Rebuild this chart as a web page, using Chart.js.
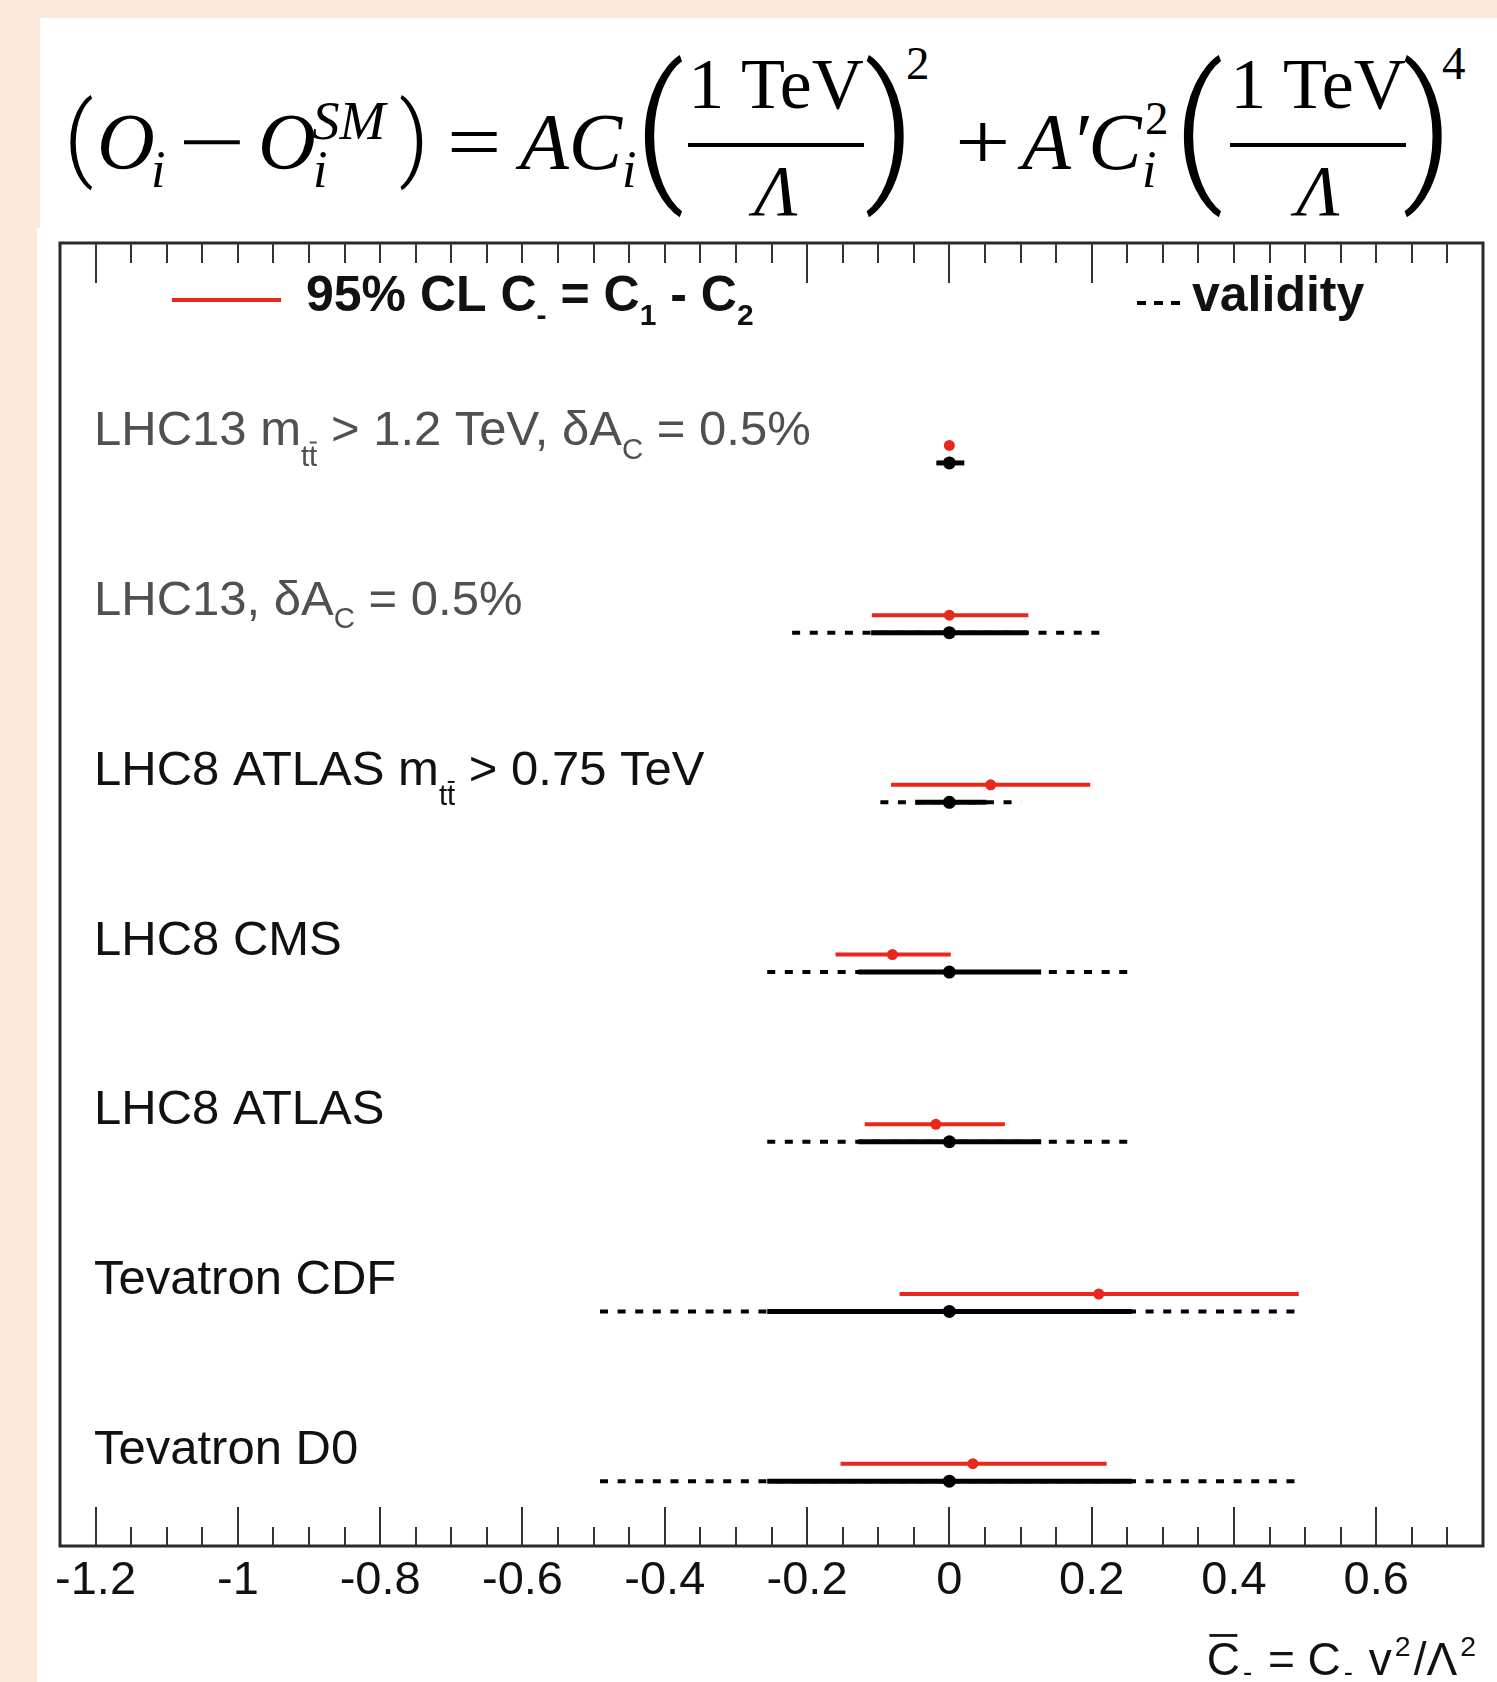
<!DOCTYPE html>
<html><head><meta charset="utf-8">
<script src="https://cdn.jsdelivr.net/npm/chart.js@4.4.1/dist/chart.umd.min.js"></script>
<style>
html,body{margin:0;padding:0;}
body{width:1497px;height:1682px;background:#FCE9DB;position:relative;overflow:hidden;}
#fbox{position:absolute;left:40px;top:18px;width:1457px;height:211px;background:#fff;}
#cbox{position:absolute;left:37px;top:228px;width:1460px;height:1454px;background:#fff;}
#formula{position:absolute;left:0;top:0;width:1497px;height:230px;font-family:"Liberation Serif","DejaVu Serif",serif;color:#000;}
#formula span{position:absolute;line-height:1;white-space:nowrap;display:block;}
#formula .it{font-style:italic;}
#formula .par{font-family:Roboto,Lato,"Liberation Sans",sans-serif;font-weight:300;font-size:100px;left:0;top:0;}
#formula .m{font-size:80px;top:102px;}
#formula .op{font-size:80px;top:102px;transform-origin:0 0;}
#formula .sb{font-size:52px;top:144px;}
#formula .num{font-size:72px;top:48px;width:176px;text-align:center;}
#formula .den{font-size:72px;top:155px;width:176px;text-align:center;}
#formula .bar{top:143px;width:176px;height:4px;background:#000;}
#formula .ex{font-size:47px;top:40px;}
canvas{position:absolute;left:0;top:0;}
</style></head>
<body>
<div id="fbox"></div><div id="cbox"></div>
<div id="formula">
<span class="par" id="pa">(</span>
<span class="m it" style="left:97px;">O</span>
<span class="sb it" style="left:151px;">i</span>
<span class="op" style="left:178px;transform:scaleX(1.5);">−</span>
<span class="m it" style="left:258px;">O</span>
<span class="it" style="left:312px;top:93px;font-size:55px;">SM</span>
<span class="sb it" style="left:313px;">i</span>
<span class="par" id="pb">)</span>
<span class="op" id="eq">=</span>
<span class="m it" style="left:520px;">AC</span>
<span class="sb it" style="left:622px;">i</span>
<span class="par" id="pc">(</span>
<span class="num" style="left:688px;">1 TeV</span>
<span class="bar" style="left:688px;"></span>
<span class="den it" style="left:688px;">Λ</span>
<span class="par" id="pd">)</span>
<span class="ex" style="left:906px;">2</span>
<span class="op" id="plus">+</span>
<span class="m it" style="left:1022px;">A′C</span>
<span style="left:1145px;top:95px;font-size:47px;">2</span>
<span class="sb it" style="left:1142px;">i</span>
<span class="par" id="pe">(</span>
<span class="num" style="left:1230px;">1 TeV</span>
<span class="bar" style="left:1230px;"></span>
<span class="den it" style="left:1230px;">Λ</span>
<span class="par" id="pf">)</span>
<span class="ex" style="left:1442px;">4</span>
</div>
<canvas id="c" width="1497" height="1682"></canvas>
<script>
// ---------------- data ----------------
const categories = [
  "LHC13 m_{t¯t} > 1.2 TeV, δA_{C} = 0.5%",
  "LHC13, δA_{C} = 0.5%",
  "LHC8 ATLAS m_{t¯t} > 0.75 TeV",
  "LHC8 CMS",
  "LHC8 ATLAS",
  "Tevatron CDF",
  "Tevatron D0"
];
const redCentral   = [0.000, 0.000, 0.058, -0.080, -0.019, 0.210, 0.033];
const redLow       = [-0.003, -0.109, -0.082, -0.160, -0.119, -0.070, -0.153];
const redHigh      = [0.003, 0.111, 0.198, 0.002, 0.078, 0.491, 0.221];
const blackCentral = [0, 0, 0, 0, 0, 0, 0];
const blackLow     = [-0.018, -0.110, -0.048, -0.128, -0.128, -0.256, -0.256];
const blackHigh    = [0.021, 0.110, 0.052, 0.129, 0.129, 0.257, 0.257];
const validLow     = [-0.018, -0.221, -0.097, -0.256, -0.256, -0.491, -0.491];
const validHigh    = [0.021, 0.222, 0.101, 0.257, 0.257, 0.491, 0.491];
const tickValues = [-1.2, -1, -0.8, -0.6, -0.4, -0.2, 0, 0.2, 0.4, 0.6];
const tickLabels = ["-1.2", "-1", "-0.8", "-0.6", "-0.4", "-0.2", "0", "0.2", "0.4", "0.6"];
const legendRed = "95% CL C_{-} = C_{1} - C_{2}";
const legendValid = "validity";
const axisTitle = "¯C_{-} = C_{-} v^{2}/Λ^{2}";

// ---------------- formula glyph fitting (layout only) ----------------
function measureEl(el, S) {
  const cs = getComputedStyle(el);
  const g = document.createElement('canvas').getContext('2d');
  g.font = cs.fontStyle + ' ' + cs.fontWeight + ' ' + S + 'px ' + cs.fontFamily;
  return g.measureText(el.textContent);
}
function fitParen(id, inkLeft, inkTop, inkBottom) {
  const el = document.getElementById(id);
  const S = 100;
  const m = measureEl(el, S);
  const a = m.actualBoundingBoxAscent, d = m.actualBoundingBoxDescent;
  const fa = m.fontBoundingBoxAscent, fd = m.fontBoundingBoxDescent;
  const base = (S - (fa + fd)) / 2 + fa;
  const k = (inkBottom - inkTop) / (a + d);
  el.style.fontSize = S + 'px';
  el.style.transformOrigin = '0 0';
  el.style.transform = 'scale(' + k + ')';
  el.style.left = (inkLeft + k * m.actualBoundingBoxLeft) + 'px';
  el.style.top = (inkTop - k * (base - a)) + 'px';
}
function fitInkX(id, inkLeft, inkRight) {
  const el = document.getElementById(id);
  const m = measureEl(el, 80);
  const w = m.actualBoundingBoxLeft + m.actualBoundingBoxRight;
  const sx = (inkRight - inkLeft) / w;
  el.style.transform = 'scaleX(' + sx + ')';
  el.style.left = (inkLeft + sx * m.actualBoundingBoxLeft) + 'px';
}
fitParen('pa', 70, 94, 191);
fitParen('pb', 400, 94, 191);
fitParen('pc', 643, 54, 220);
fitParen('pd', 866, 54, 220);
fitParen('pe', 1182, 54, 220);
fitParen('pf', 1404, 54, 220);
fitInkX('eq', 451, 498);
fitInkX('plus', 959, 1007);

// ---------------- style ----------------
const RED = '#e8281c';
const INK = '#111111';
const FRAME = '#2a2a2a';
const LABEL_COLORS = ['#505050', '#505050', INK, INK, INK, INK, INK];
const RED_DY = 0.103;
const SANS = '"Liberation Sans", Arial, Helvetica, sans-serif';

function parseRich(str) {
  const out = []; let mode = 'n'; let bar = false; let low = false;
  for (let i = 0; i < str.length; i++) {
    const c = str[i];
    if ((c === '_' || c === '^') && str[i + 1] === '{') {
      mode = c === '_' ? 'sub' : 'sup';
      const close = str.indexOf('}', i);
      low = str.slice(i, close).includes('¯');
      i++; continue;
    }
    if (c === '}') { mode = 'n'; low = false; continue; }
    if (c === '¯') { bar = true; continue; }
    const last = out[out.length - 1];
    if (last && last.mode === mode && !bar && !last.bar && last.low === low) last.t += c;
    else out.push({ t: c, mode, bar, low });
    bar = false;
  }
  return out;
}
function drawRich(ctx, str, x, y, o) {
  const runs = parseRich(str);
  let cx = x;
  for (const r of runs) {
    const fs = r.mode === 'n' ? o.size : o.size * (r.mode === 'sub' ? o.subScale : o.supScale);
    const dy = r.mode === 'sub' ? o.size * (r.low ? (o.subDyLow || o.subDy) : o.subDy) : (r.mode === 'sup' ? -o.size * o.supDy : 0);
    ctx.font = (o.bold ? 'bold ' : '') + fs + 'px ' + SANS;
    const w = ctx.measureText(r.t).width;
    if (!o.measure) {
      ctx.fillStyle = o.color; ctx.textBaseline = 'alphabetic'; ctx.textAlign = 'left';
      ctx.fillText(r.t, cx, y + dy);
      if (r.bar) {
        ctx.save(); ctx.strokeStyle = o.color; ctx.lineWidth = Math.max(2, fs * 0.06);
        const by = y + dy - fs * (r.mode === 'n' ? 0.86 : 0.8);
        ctx.beginPath(); ctx.moveTo(cx + w * 0.08, by); ctx.lineTo(cx + w * 0.92, by); ctx.stroke(); ctx.restore();
      }
    }
    cx += w + (o.gap || 0);
  }
  return cx - x;
}

// ---------------- datasets ----------------
const datasets = [];
datasets.push({ label: 'red central', order: 0, data: redCentral.map((v, i) => ({ x: v, y: i + 1 - RED_DY })),
  showLine: false, pointRadius: 5.5, pointBackgroundColor: RED, pointBorderWidth: 0, pointHoverRadius: 5.5 });
datasets.push({ label: 'black central', order: 1, data: blackCentral.map((v, i) => ({ x: v, y: i + 1 })),
  showLine: false, pointRadius: 6.5, pointBackgroundColor: '#000', pointBorderWidth: 0, pointHoverRadius: 6.5 });
categories.forEach((c, i) => {
  datasets.push({ label: c + ' 95% CL', order: 2, data: [{ x: redLow[i], y: i + 1 - RED_DY }, { x: redHigh[i], y: i + 1 - RED_DY }],
    showLine: true, borderColor: RED, borderWidth: 4, pointRadius: 0, borderCapStyle: 'butt' });
  datasets.push({ label: c + ' black', order: 3, data: [{ x: blackLow[i], y: i + 1 }, { x: blackHigh[i], y: i + 1 }],
    showLine: true, borderColor: '#000', borderWidth: 5, pointRadius: 0, borderCapStyle: 'butt' });
  datasets.push({ label: c + ' validity', order: 4, data: [{ x: validLow[i], y: i + 1 }, { x: validHigh[i], y: i + 1 }],
    showLine: true, borderColor: '#000', borderWidth: 4, borderDash: [8, 9.6], pointRadius: 0, borderCapStyle: 'butt' });
});

const deco = {
  id: 'deco',
  afterDraw(chart) {
    const ctx = chart.ctx, a = chart.chartArea, xs = chart.scales.x, ys = chart.scales.y;
    ctx.save();
    // frame
    ctx.strokeStyle = FRAME; ctx.lineWidth = 3;
    ctx.strokeRect(a.left, a.top, a.right - a.left, a.bottom - a.top);
    // ticks every 0.05
    ctx.lineWidth = 2; ctx.strokeStyle = '#333';
    const longTop = [-24, -4, 0, 4];
    for (let k = -24; k <= 14; k++) {
      const px = Math.round(xs.getPixelForValue(k * 0.05));
      const major = (k % 4 === 0);
      ctx.beginPath(); ctx.moveTo(px, a.bottom); ctx.lineTo(px, a.bottom - (major ? 39 : 19)); ctx.stroke();
      ctx.beginPath(); ctx.moveTo(px, a.top); ctx.lineTo(px, a.top + (longTop.includes(k) ? 40 : 20)); ctx.stroke();
    }
    // row labels
    categories.forEach((c, i) => {
      const py = ys.getPixelForValue(i + 1 - RED_DY);
      drawRich(ctx, c, a.left + 34, py, { size: 49, color: LABEL_COLORS[i], subScale: 0.6, subDy: 0.27, subDyLow: 0.42, supScale: 0.6, supDy: 0.4 });
    });
    // legend
    ctx.strokeStyle = RED; ctx.lineWidth = 4;
    ctx.beginPath(); ctx.moveTo(a.left + 112, a.top + 57); ctx.lineTo(a.left + 221, a.top + 57); ctx.stroke();
    drawRich(ctx, legendRed, a.left + 246, a.top + 68, { size: 50, bold: true, color: INK, subScale: 0.6, subDy: 0.27, supScale: 0.6, supDy: 0.4 });
    ctx.strokeStyle = '#000'; ctx.lineWidth = 4; ctx.setLineDash([9, 8]);
    ctx.beginPath(); ctx.moveTo(a.left + 1077, a.top + 60); ctx.lineTo(a.left + 1128, a.top + 60); ctx.stroke();
    ctx.setLineDash([]);
    drawRich(ctx, legendValid, a.left + 1132, a.top + 68, { size: 50, bold: true, color: INK, subScale: 0.6, subDy: 0.27, supScale: 0.6, supDy: 0.4 });
    // axis title, right aligned
    const tOpt = { size: 46, color: INK, subScale: 0.6, subDy: 0.12, supScale: 0.62, supDy: 0.42, gap: 3 };
    const tw = drawRich(ctx, axisTitle, 0, 0, Object.assign({ measure: true }, tOpt));
    drawRich(ctx, axisTitle, a.right - 4 - tw, a.bottom + 129, tOpt);
    ctx.restore();
  }
};

Chart.defaults.font.family = SANS;
new Chart(document.getElementById('c'), {
  type: 'scatter',
  data: { datasets },
  options: {
    responsive: false, animation: false, devicePixelRatio: 1,
    layout: { padding: { left: 60, right: 14, top: 243, bottom: 0 }, autoPadding: false },
    plugins: { legend: { display: false }, tooltip: { enabled: false } },
    scales: {
      x: {
        type: 'linear', min: -1.25, max: 0.75,
        afterBuildTicks: (s) => { s.ticks = tickValues.map(v => ({ value: v })); },
        afterFit: (s) => { s.height = 136; },
        grid: { display: false, drawTicks: false }, border: { display: false },
        ticks: { padding: 7, color: INK, font: { size: 47 }, maxRotation: 0, autoSkip: false,
          callback: (v) => { const j = tickValues.findIndex(t => Math.abs(t - v) < 1e-9); return j >= 0 ? tickLabels[j] : ''; } }
      },
      y: { type: 'linear', display: false, reverse: true, min: -0.296, max: 7.382 }
    }
  },
  plugins: [deco]
});
</script>
</body></html>
